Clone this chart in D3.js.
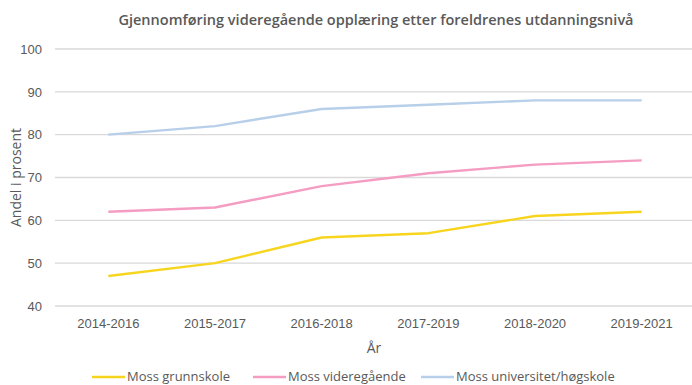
<!DOCTYPE html>
<html>
<head>
<meta charset="utf-8">
<script src="https://cdn.jsdelivr.net/npm/d3@7"></script>
<style>
  html, body { margin: 0; padding: 0; background: #fff; }
  svg { display: block; font-family: "Open Sans", "Liberation Sans", sans-serif; }
</style>
</head>
<body>
<svg id="chart" width="692" height="385"></svg>
<script>
// Periods on the x axis
const periods = ["2014-2016", "2015-2017", "2016-2018", "2017-2019", "2018-2020", "2019-2021"];

// Completion share (%) by parents' education level
const grunnskole = [47, 50, 56, 57, 61, 62];
const videregaende = [62, 63, 68, 71, 73, 74];
const universitet = [80, 82, 86, 87, 88, 88];

const seriesNames = ["Moss grunnskole", "Moss videregående", "Moss universitet/høgskole"];
const seriesColors = ["#f7d51f", "#f59cc3", "#b7cfe9"];

const yTicks = [40, 50, 60, 70, 80, 90, 100];

const series = [grunnskole, videregaende, universitet].map((vals, i) => ({
  name: seriesNames[i],
  color: seriesColors[i],
  values: vals
}));

const svg = d3.select("#chart");
const W = 692, H = 385;
const margin = { left: 55, right: -3, top: 49, bottom: 79 };

const x = d3.scaleBand()
  .domain(periods)
  .range([margin.left, W - margin.right]);

const y = d3.scaleLinear()
  .domain([40, 100])
  .range([H - margin.bottom, margin.top]);

const textColor = "#595959";

// Horizontal gridlines
svg.append("g")
  .selectAll("line")
  .data(yTicks)
  .join("line")
  .attr("x1", margin.left)
  .attr("x2", W)
  .attr("y1", d => y(d))
  .attr("y2", d => y(d))
  .attr("stroke", "#d9d9d9")
  .attr("stroke-width", 1.3);

// Y axis labels
const yAxis = d3.axisLeft(y).tickValues(yTicks).tickSize(0).tickPadding(0);
const gy = svg.append("g")
  .attr("transform", `translate(${margin.left - 13},0)`)
  .call(yAxis);
gy.select(".domain").remove();
gy.selectAll("text")
  .attr("fill", textColor)
  .style("font-size", "13px")
  .style("font-family", "inherit");

// X axis labels
const xAxis = d3.axisBottom(x).tickSize(0).tickPadding(0);
const gx = svg.append("g")
  .attr("transform", `translate(0,${y(40) + 13})`)
  .call(xAxis);
gx.select(".domain").remove();
gx.selectAll("text")
  .attr("fill", textColor)
  .style("font-size", "13px")
  .style("font-family", "inherit");

// Series lines
const line = d3.line()
  .x((d, i) => x(periods[i]) + x.bandwidth() / 2)
  .y(d => y(d));

svg.append("g")
  .selectAll("path")
  .data(series)
  .join("path")
  .attr("d", d => line(d.values))
  .attr("fill", "none")
  .attr("stroke", d => d.color)
  .attr("stroke-width", 2.4)
  .attr("stroke-linejoin", "round");

// Title
svg.append("text")
  .attr("x", 376)
  .attr("y", 25)
  .attr("text-anchor", "middle")
  .attr("fill", textColor)
  .style("font-size", "14.5px")
  .style("font-weight", "600")
  .text("Gjennomføring videregående opplæring etter foreldrenes utdanningsnivå");

// Axis titles
svg.append("text")
  .attr("x", 374)
  .attr("y", 353)
  .attr("text-anchor", "middle")
  .attr("fill", textColor)
  .style("font-size", "14px")
  .text("År");

svg.append("text")
  .attr("transform", `translate(21,${y(70)}) rotate(-90)`)
  .attr("text-anchor", "middle")
  .attr("fill", textColor)
  .style("font-size", "14px")
  .text("Andel i prosent");

// Legend
const legendX = [92, 253, 421];
const legend = svg.append("g")
  .selectAll("g")
  .data(series)
  .join("g")
  .attr("transform", (d, i) => `translate(${legendX[i]},377)`);
legend.append("line")
  .attr("x1", 0).attr("x2", 33)
  .attr("y1", 0).attr("y2", 0)
  .attr("stroke", d => d.color)
  .attr("stroke-width", 2.4);
legend.append("text")
  .attr("x", 35)
  .attr("y", 4)
  .attr("fill", textColor)
  .style("font-size", "13px")
  .text(d => d.name);
</script>
</body>
</html>
